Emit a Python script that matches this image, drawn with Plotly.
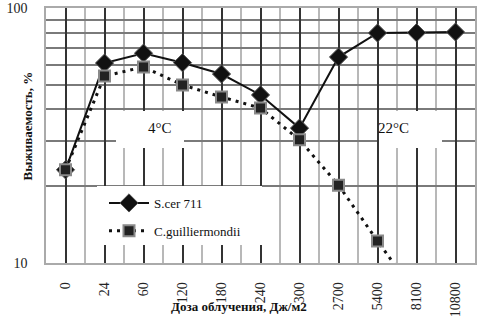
import plotly.graph_objects as go

doses = ["0", "24", "60", "120", "180", "240", "300", "2700", "5400", "8100", "10800"]
scer = [23.2, 60.8, 66.5, 61.0, 55.1, 45.6, 33.8, 64.2, 79.8, 80.0, 80.5]
cgui = [23.2, 54.1, 58.7, 49.9, 44.8, 40.5, 30.4, 20.2, 12.2, 7.5, None]
names = ["S.cer 711", "C.guilliermondii"]
y_ticks = [10, 100]
y_minor = [20, 30, 40, 50, 60, 70, 80, 90]

xi = list(range(len(doses)))
SERIF = "Liberation Serif, Times New Roman, serif"

fig = go.Figure()
fig.add_trace(go.Scatter(
    x=xi, y=scer, name=names[0], mode="lines+markers", legendgroup="a",
    line=dict(color="#111111", width=2),
    marker=dict(symbol="diamond", size=14, color="#111111",
                line=dict(color="#555555", width=1)),
))
fig.add_trace(go.Scatter(
    x=xi, y=cgui, name=names[1], mode="lines+markers", legendgroup="b",
    line=dict(color="#111111", width=3, dash="3px,5px"),
    marker=dict(symbol="square", size=11, color="#222222",
                line=dict(color="#8a8a8a", width=2)),
))

# white boxes behind labels / legend
for x0, x1, y0, y1 in [(116, 184, 111, 148), (379, 442, 111, 148), (97, 262, 186, 245)]:
    fig.add_shape(type="rect", xref="paper", yref="paper",
                  x0=(x0 - 46) / 429, x1=(x1 - 46) / 429,
                  y0=(263 - y1) / 255, y1=(263 - y0) / 255,
                  fillcolor="white", line=dict(width=0), layer="above")

fig.add_annotation(text="4°C", xref="paper", yref="paper",
                   x=(146 - 46) / 429, y=(263 - 128) / 255, showarrow=False,
                   font=dict(family=SERIF, size=15, color="#111"))
fig.add_annotation(text="22°C", xref="paper", yref="paper",
                   x=(411 - 46) / 429, y=(263 - 128) / 255, showarrow=False,
                   font=dict(family=SERIF, size=15, color="#111"))
fig.add_annotation(text="<b>Доза облучения, Дж/м2</b>", xref="paper", yref="paper",
                   x=(239 - 46) / 429, y=(263 - 316) / 255, showarrow=False,
                   font=dict(family=SERIF, size=13, color="#111"))
fig.add_annotation(text="<b>Выживаемость, %</b>", xref="paper", yref="paper",
                   x=(17 - 46) / 429, y=(263 - 126) / 255, showarrow=False, textangle=-90,
                   font=dict(family=SERIF, size=13, color="#111"))

fig.update_layout(
    width=481, height=327,
    margin=dict(l=46, r=6, t=8, b=64, autoexpand=False),
    paper_bgcolor="white", plot_bgcolor="white",
    font=dict(family=SERIF, color="#111"),
    showlegend=True,
    legend=dict(x=(104 - 46) / 429, y=(263 - 188) / 255, xanchor="left", yanchor="top",
                bgcolor="rgba(0,0,0,0)", font=dict(family=SERIF, size=13, color="#111"),
                tracegroupgap=8, itemwidth=40),
)
fig.update_xaxes(
    range=[-0.5, len(doses) - 0.5], tickmode="array", tickvals=xi, ticktext=doses,
    tickangle=-90, tickfont=dict(family=SERIF, size=14, color="#222"),
    showgrid=True, gridcolor="#333333", gridwidth=1.5,
    minor=dict(dtick=0.5, tick0=-0.5, showgrid=True, gridcolor="#b8b8b8", gridwidth=2, ticks=""),
    showline=True, mirror=True, linecolor="#aaaaaa", linewidth=1.5,
    ticks="", ticklabelstandoff=12, zeroline=False, automargin=False,
)
fig.update_yaxes(
    type="log", range=[1, 2], tickmode="array", tickvals=y_ticks, ticktext=["10", "100"],
    tickfont=dict(family=SERIF, size=14, color="#222"),
    showgrid=True, gridcolor="#7a7a7a", gridwidth=1.5,
    minor=dict(tickvals=y_minor, showgrid=True, gridcolor="#7a7a7a", gridwidth=1.5, ticks=""),
    showline=True, mirror=True, linecolor="#aaaaaa", linewidth=1.5,
    ticks="", ticklabelstandoff=14, automargin=False,
)

fig.write_html("out.html", config={"displayModeBar": False},
               post_script="document.body.style.margin='0';document.body.style.overflow='hidden';")
